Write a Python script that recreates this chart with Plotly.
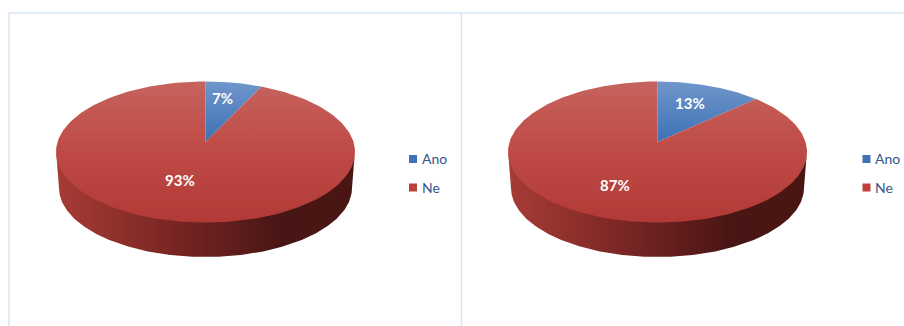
import numpy as np
import plotly.graph_objects as go

# Survey answers, one pie per question
categories = ["Ano", "Ne"]
values_left = [7, 93]
values_right = [13, 87]
panels = [values_left, values_right]

W, H = 904, 326
PANEL_W = 452
APEX_X, APEX_Y = 205.5, 142.0   # pie centre inside a panel, px
UNIT = 148.0                    # px per radius unit on both axes
TILT = 69.08 / 148.0            # vertical foreshortening of the disc
PERSP = 0.1418                  # perspective strength, far edge shrinks
DEPTH = 36.1 / 148.0            # drop of the pie's lower face
LOWER_SCALE = 0.98              # lower face looks a little narrower
TUCK = 2.0 / 148.0              # side wall runs slightly under the top face

BLUE_TOP = [[0, "#7096cb"], [1, "#3d71b5"]]
RED_TOP = [[0, "#c6635d"], [0.45, "#c04c47"], [1, "#b23a36"]]
RED_WALL = [[0, "#a83b36"], [0.25, "#8a2e2a"], [0.5, "#6b2020"],
            [0.75, "#481614"], [1, "#4a1614"]]


def project(theta, scale=1.0, drop=0.0):
    """Map a clockwise-from-top angle on the unit disc to axis coordinates."""
    u, v = np.sin(theta), np.cos(theta)
    d = 1 + PERSP * v
    return scale * u / d, scale * TILT * v / d - drop


def slice_outline(start, end):
    theta = np.linspace(start, end, 240)
    x, y = project(theta)
    return np.r_[0, x, 0], np.r_[0, y, 0]


def wall_outline():
    # Visible side of the pie, between the two silhouette tangents
    tangent = np.arccos(-PERSP)
    theta = np.linspace(tangent, 2 * np.pi - tangent, 240)
    xt, yt = project(theta, drop=-TUCK)
    xb, yb = project(theta[::-1], LOWER_SCALE, DEPTH)
    return np.r_[xt, xb, xt[0]], np.r_[yt, yb, yt[0]]


def gradient(kind, scale, start, stop):
    return dict(type=kind, colorscale=scale, start=start, stop=stop)


fig = go.Figure()
top_y = float(project(0.0)[1])
low_y = float(project(np.pi)[1])
apex_y = 0.0

for i, values in enumerate(panels):
    axis = "" if i == 0 else "2"
    xa, ya = f"x{axis}", f"y{axis}"
    share = np.array(values, dtype=float) / sum(values)
    stops = np.r_[0, np.cumsum(share)] * 2 * np.pi

    wx, wy = wall_outline()
    fig.add_trace(go.Scatter(
        x=wx, y=wy, xaxis=xa, yaxis=ya, mode="lines", fill="toself",
        line=dict(width=0), hoverinfo="skip", showlegend=False,
        fillgradient=gradient("horizontal", RED_WALL, float(wx.min()), float(wx.max())),
    ))
    for name, a, b in zip(categories, stops[:-1], stops[1:]):
        sx, sy = slice_outline(a, b)
        if name == "Ano":
            fill = gradient("vertical", BLUE_TOP, top_y, apex_y)
        else:
            fill = gradient("vertical", RED_TOP, top_y, low_y)
        fig.add_trace(go.Scatter(
            x=sx, y=sy, xaxis=xa, yaxis=ya, mode="lines", fill="toself",
            line=dict(width=0), name=name, hoverinfo="name", showlegend=False,
            fillgradient=fill,
        ))

axis_common = dict(visible=False, fixedrange=True)
x_range = [-APEX_X / UNIT, (PANEL_W - APEX_X) / UNIT]
y_range = [(APEX_Y - H) / UNIT, APEX_Y / UNIT]
layout_axes = dict(
    xaxis=dict(domain=[0, 0.5], range=x_range, **axis_common),
    yaxis=dict(domain=[0, 1], range=y_range, **axis_common),
    xaxis2=dict(domain=[0.5, 1], range=x_range, **axis_common),
    yaxis2=dict(domain=[0, 1], range=y_range, anchor="x2", **axis_common),
)


def px(x):
    return x / W


def py(y):
    return 1 - y / H


shapes = []
FRAME = "#d5e4f3"
for x0, y0, x1, y1 in [(9, 13, 9, 326), (9, 13, 904, 13), (461.5, 13, 461.5, 326)]:
    shapes.append(dict(type="line", xref="paper", yref="paper",
                       x0=px(x0), y0=py(y0), x1=px(x1), y1=py(y1),
                       line=dict(color=FRAME, width=1.5)))

annotations = []
label_pos = [[(222, 98.5), (179.5, 180)], [(690, 102.5), (615, 185)]]
for values, positions in zip(panels, label_pos):
    for v, (lx, ly) in zip(values, positions):
        annotations.append(dict(
            xref="paper", yref="paper", x=px(lx), y=py(ly), showarrow=False,
            text=f"<b>{v}%</b>", xanchor="center", yanchor="middle",
            font=dict(family="Lato", size=15, color="white"),
        ))

key_colors = ["#3f73b6", "#bd403c"]
key_rows = [159, 187.5]
for key_x in (413, 866.5):
    for name, colour, row in zip(categories, key_colors, key_rows):
        shapes.append(dict(type="rect", xref="paper", yref="paper",
                           x0=px(key_x - 4), x1=px(key_x + 4),
                           y0=py(row - 4), y1=py(row + 4),
                           fillcolor=colour, line=dict(width=0)))
        annotations.append(dict(
            xref="paper", yref="paper", x=px(key_x + 6.5), y=py(row - 0.5),
            showarrow=False, text=name, xanchor="left", yanchor="middle",
            font=dict(family="Lato", size=14, color="#35568a"),
        ))

fig.update_layout(
    width=W, height=H, margin=dict(l=0, r=0, t=0, b=0),
    paper_bgcolor="white", plot_bgcolor="white", showlegend=False,
    shapes=shapes, annotations=annotations, **layout_axes,
)
fig.write_html("out.html", config=dict(displayModeBar=False))
